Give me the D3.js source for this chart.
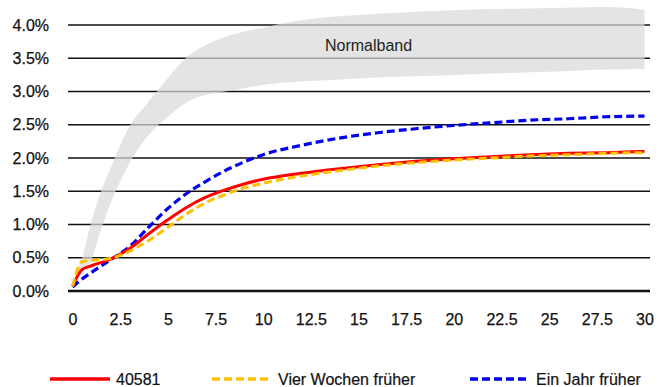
<!DOCTYPE html>
<meta charset="utf-8">
<head>
<style>
  body { margin: 0; background: #fff; font-family: "Liberation Sans", Arial, sans-serif; }
  .tick text { font-size: 16px; fill: #111; stroke: #111; stroke-width: 0.25px; }
  .legend text { font-size: 16px; fill: #111; stroke: #111; stroke-width: 0.2px; }
</style>
<script src="https://d3js.org/d3.v7.min.js"></script>
</head>
<body>
<div id="chart"></div>
<script>
// *** data
var xs = [0, 0.5, 1, 2, 3, 4, 5, 6, 7, 8, 9, 10, 12, 14, 16, 18, 20, 22, 24, 26, 28, 30];
var current = [0.07, 0.32, 0.38, 0.48, 0.64, 0.86, 1.07, 1.26, 1.41, 1.52, 1.61, 1.68, 1.77, 1.84, 1.90, 1.95, 1.99, 2.02, 2.05, 2.07, 2.08, 2.10];
var fourWeeks = [0.07, 0.44, 0.46, 0.49, 0.60, 0.76, 0.96, 1.16, 1.33, 1.45, 1.55, 1.62, 1.73, 1.81, 1.88, 1.93, 1.97, 2.00, 2.03, 2.05, 2.07, 2.08];
var oneYear = [0.06, 0.18, 0.28, 0.47, 0.67, 0.96, 1.24, 1.47, 1.65, 1.81, 1.94, 2.05, 2.19, 2.30, 2.38, 2.44, 2.49, 2.53, 2.57, 2.59, 2.62, 2.63];

var bandXs = [0.15, 0.5, 1, 1.5, 2, 3, 4, 5, 6, 7, 8, 10, 12, 14, 16, 18, 20, 22, 24, 26, 28, 30];
var bandUpper = [0.20, 0.50, 1.05, 1.50, 1.85, 2.48, 2.85, 3.20, 3.52, 3.70, 3.82, 3.96, 4.07, 4.13, 4.17, 4.20, 4.22, 4.24, 4.25, 4.26, 4.27, 4.23];
var bandLower = [0.15, 0.30, 0.47, 0.93, 1.32, 1.93, 2.35, 2.62, 2.84, 2.95, 3.00, 3.10, 3.15, 3.18, 3.21, 3.23, 3.25, 3.27, 3.29, 3.31, 3.33, 3.34];

var xTicks = [0, 2.5, 5, 7.5, 10, 12.5, 15, 17.5, 20, 22.5, 25, 27.5, 30];
var yTicks = [0, 0.5, 1, 1.5, 2, 2.5, 3, 3.5, 4];
var seriesNames = ["40581", "Vier Wochen früher", "Ein Jahr früher"];

var width = 658, height = 387;
var svg = d3.select("#chart").append("svg")
  .attr("width", width)
  .attr("height", height);

var x = d3.scaleLinear().domain([0, 30]).range([72.5, 644.5]);
var y = d3.scaleLinear().domain([0, 4]).range([291, 25]);

// gridlines
svg.append("g").selectAll("line")
  .data(yTicks)
  .enter().append("line")
  .attr("x1", 68).attr("x2", 650)
  .attr("y1", function(d) { return y(d); })
  .attr("y2", function(d) { return y(d); })
  .attr("stroke", "#111")
  .attr("stroke-width", function(d) { return d === 0 ? 2.5 : 1.5; });

// normal band
var band = bandXs.map(function(v, i) { return { x: v, lo: bandLower[i], hi: bandUpper[i] }; });
svg.append("path")
  .datum(band)
  .attr("d", d3.area()
    .curve(d3.curveMonotoneX)
    .x(function(d) { return x(d.x); })
    .y0(function(d) { return y(d.lo); })
    .y1(function(d) { return y(d.hi); }))
  .attr("fill", "#d9d9d9")
  .attr("opacity", 0.72);

svg.append("text")
  .attr("x", 368.5).attr("y", 51)
  .attr("text-anchor", "middle")
  .style("font-size", "16px")
  .style("fill", "#222")
  .text("Normalband");

// axes (labels only)
var yAxis = svg.append("g")
  .attr("transform", "translate(49,0)")
  .call(d3.axisLeft(y).tickValues(yTicks).tickSize(0).tickPadding(0)
    .tickFormat(function(d) { return d3.format(".1f")(d) + "%"; }));
yAxis.select(".domain").remove();

var xAxis = svg.append("g")
  .attr("transform", "translate(0,313.5)")
  .call(d3.axisBottom(x).tickValues(xTicks).tickSize(0).tickPadding(0)
    .tickFormat(function(d) { return String(d); }));
xAxis.select(".domain").remove();

// lines
var line = d3.line()
  .curve(d3.curveMonotoneX)
  .x(function(d) { return x(d[0]); })
  .y(function(d) { return y(d[1]); });

var styles = [
  { data: current, color: "#ff0000", dash: null, w: 3 },
  { data: fourWeeks, color: "#ffc000", dash: "8,4", w: 3 },
  { data: oneYear, color: "#0000ee", dash: "8,4", w: 3.2 }
];

// blue first, then red, orange on top
[2, 0, 1].forEach(function(i) {
  var s = styles[i];
  svg.append("path")
    .datum(xs.map(function(v, j) { return [v, s.data[j]]; }))
    .attr("d", line)
    .attr("fill", "none")
    .attr("stroke", s.color)
    .attr("stroke-width", s.w)
    .attr("stroke-dasharray", s.dash);
});

// legend
var legendX = [50, 212, 470];
var legend = svg.append("g").attr("class", "legend");
seriesNames.forEach(function(name, i) {
  var s = styles[i];
  legend.append("line")
    .attr("x1", legendX[i]).attr("x2", legendX[i] + 60)
    .attr("y1", 379).attr("y2", 379)
    .attr("stroke", s.color)
    .attr("stroke-width", s.w + 0.5)
    .attr("stroke-dasharray", s.dash);
  legend.append("text")
    .attr("x", legendX[i] + 66).attr("y", 384.5)
    .text(name);
});
</script>
</body>
